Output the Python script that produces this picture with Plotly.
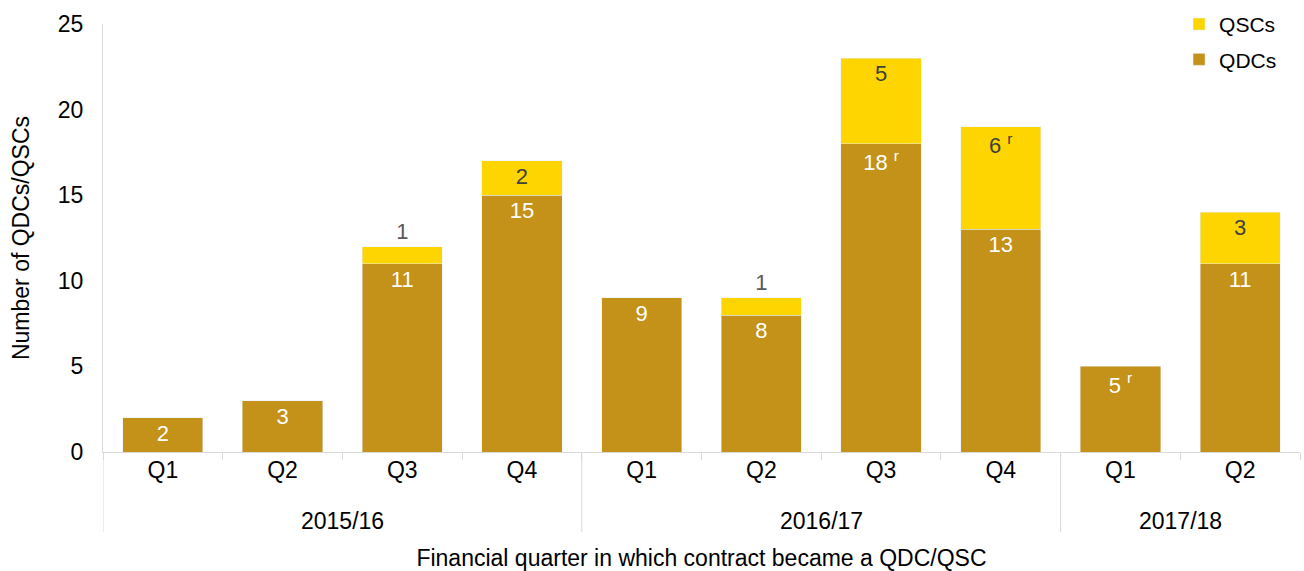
import plotly.graph_objects as go

years = ["2015/16"] * 4 + ["2016/17"] * 4 + ["2017/18"] * 2
quarters = ["Q1", "Q2", "Q3", "Q4", "Q1", "Q2", "Q3", "Q4", "Q1", "Q2"]
qdc = [2, 3, 11, 15, 9, 8, 18, 13, 5, 11]
qsc = [None, None, 1, 2, None, 1, 5, 6, None, 3]
qdc_labels = ["2", "3", "11", "15", "9", "8", "18 <sup>r</sup>", "13", "5 <sup>r</sup>", "11"]
qsc_labels = [None, None, "1", "2", None, "1", "5", "6 <sup>r</sup>", None, "3"]

C_QDC = "#C49218"
C_QSC = "#FFD500"
GRID = "#d9d9d9"
FONT = "Liberation Sans, Arial, sans-serif"
FS = 23
LFS = 22

pos = list(range(len(quarters)))

# group (year) spans derived from the category list
groups = []
for i, y in enumerate(years):
    if groups and groups[-1][0] == y:
        groups[-1][2] = i
    else:
        groups.append([y, i, i])

fig = go.Figure()
fig.add_trace(go.Bar(
    x=pos, y=qdc, name="QDCs", marker_color=C_QDC, legendgroup="a", legendrank=2,
    text=qdc_labels, textposition="inside", insidetextanchor="end",
    textfont=dict(color="white", size=LFS, family=FONT),
    textangle=0,
))
qsc_pos = ["outside" if v == 1 else "inside" for v in [q or 0 for q in qsc]]
fig.add_trace(go.Bar(
    x=pos, y=qsc, name="QSCs", marker_color=C_QSC, legendgroup="b", legendrank=1,
    text=qsc_labels, textposition=qsc_pos, insidetextanchor="end",
    textfont=dict(color="#404040", size=LFS, family=FONT),
    outsidetextfont=dict(color="#595959", size=LFS, family=FONT),
    textangle=0, cliponaxis=False,
))

# year labels and group dividers under the category axis
PLOT_H = 571 - 24 - 119
for name, a, b in groups:
    fig.add_annotation(
        x=(a + b) / 2, xref="x", y=-(521 - 452) / PLOT_H, yref="paper",
        text=name, showarrow=False, yanchor="middle",
        font=dict(size=FS, family=FONT, color="black"),
    )
    fig.add_shape(
        type="line", xref="x", yref="paper", x0=a - 0.5, x1=a - 0.5,
        y0=0, y1=-(532 - 452) / PLOT_H, line=dict(color=GRID, width=1),
    )

fig.update_layout(
    barmode="stack",
    bargap=0.33,
    width=1304, height=571,
    margin=dict(l=103, r=4, t=24, b=119, autoexpand=False),
    plot_bgcolor="white", paper_bgcolor="white",
    font=dict(family=FONT, size=FS, color="black"),
    uniformtext=dict(minsize=LFS, mode="show"),
    legend=dict(
        x=0.985, y=1.047, xanchor="right", yanchor="top",
        traceorder="grouped", tracegroupgap=5,
        font=dict(size=21, family=FONT),
        bgcolor="rgba(0,0,0,0)", itemwidth=30,
    ),
    showlegend=True,
)
fig.update_yaxes(
    range=[0, 25], dtick=5, showgrid=False, zeroline=False,
    showline=True, linecolor=GRID, linewidth=1,
    ticks="", tickfont=dict(size=FS, family=FONT),
    ticklabelstandoff=14, automargin=False,
    title=dict(text="Number of QDCs/QSCs", font=dict(size=FS, family=FONT), standoff=21),
)
fig.update_xaxes(
    range=[-0.5, len(quarters) - 0.5], automargin=False,
    tickmode="array", tickvals=pos, ticktext=quarters,
    showgrid=False, zeroline=False,
    showline=True, linecolor=GRID, linewidth=1,
    ticks="", ticklabelstandoff=-3,
    minor=dict(ticks="outside", ticklen=7, tickcolor=GRID, tick0=0.5, dtick=1, showgrid=False),
    tickfont=dict(size=FS, family=FONT),
    title=dict(text="Financial quarter in which contract became a QDC/QSC",
               font=dict(size=FS, family=FONT), standoff=73),
)

fig.write_html("out.html", config={"displayModeBar": False},
               post_script="document.body.style.margin='0';")
